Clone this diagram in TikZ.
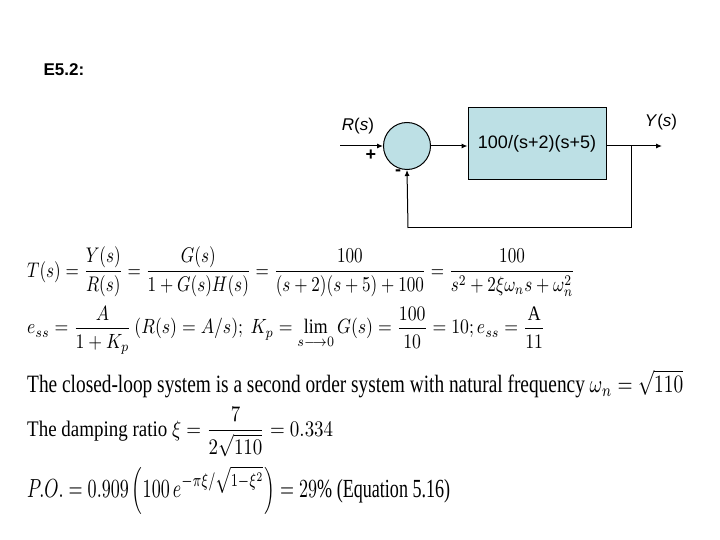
\documentclass[tikz,border=0pt]{standalone}
\usepackage{fontspec}
\usepackage{amsmath}
\usepackage{graphicx}
\setmainfont{Liberation Serif}
\newfontfamily\arial{Liberation Sans}
\usetikzlibrary{arrows.meta}
\begin{document}
\begin{tikzpicture}[x=1pt,y=-1pt,
  blk/.style={draw,line width=1pt,fill=blkfill},
  wire/.style={line width=1pt},
  arr/.style={wire,-{Latex[length=6pt,width=5pt]}},
  lbl/.style={font=\arial\fontsize{17}{19}\selectfont},
  eq/.style={anchor=west,inner sep=0pt}]
\definecolor{blkfill}{RGB}{189,224,229}
\useasboundingbox (0,0) rectangle (720,540);
\fill[white] (0,0) rectangle (720,540);
\node[anchor=west,font=\arial\bfseries\fontsize{17}{19}\selectfont] (title) at (40,70) {E5.2:};
\node[blk,circle,minimum size=47pt,inner sep=0pt] (sum) at (407,146) {};
\node[blk,minimum width=138pt,minimum height=72pt,inner sep=0pt,font=\arial\fontsize{18}{20}\selectfont] (G) at (537,144) {100/(s+2)(s+5)};
\coordinate (in) at (340,146);
\coordinate (out) at (662,146);
\coordinate (br) at (631,146);
\coordinate (fb1) at (631,228);
\coordinate (fb2) at (408,228);
\draw[arr] (in) -- (sum.west);
\draw[arr] (sum.east) -- (G.west |- sum.east);
\draw[arr] (G.east |- out) -- (out);
\draw[wire] (br) -- (fb1) -- (fb2);
\draw[arr] (fb2) -- (sum.south);
\node[lbl] (R) at (358,126) {\textit{R}(\textit{s})};
\node[lbl] (Y) at (661,122) {\textit{Y}(\textit{s})};
\node[font=\arial\bfseries\fontsize{18}{20}\selectfont] (plus) at (371,155) {+};
\node[font=\arial\bfseries\fontsize{18}{20}\selectfont] (minus) at (398,173) {-};
\node[eq] (e1) at (27,272) {\resizebox*{548pt}{50pt}{$\displaystyle T(s)=\frac{Y(s)}{R(s)}=\frac{G(s)}{1+G(s)H(s)}=\frac{100}{(s+2)(s+5)+100}=\frac{100}{s^2+2\xi\omega_n s+\omega_n^2}$}};
\node[eq] (e2) at (27,330) {\resizebox*{518pt}{48pt}{$\displaystyle e_{ss}=\frac{A}{1+K_p}\,(R(s)=A/s);\ K_p=\lim_{s\longrightarrow0}G(s)=\frac{100}{10}=10;e_{ss}=\frac{\mathrm{A}}{11}$}};
\node[eq] (e3) at (27,384) {\resizebox*{656pt}{28pt}{The closed-loop system is a second order system with natural frequency $\omega_n=\sqrt{110}$}};
\node[eq] (e4) at (27,432) {\resizebox*{306pt}{50pt}{The damping ratio $\displaystyle\xi=\frac{7}{2\sqrt{110}}=0.334$}};
\node[eq] (e5) at (27,490) {\resizebox*{423pt}{48pt}{$\displaystyle P.O.=0.909\left(100\,e^{-\pi\xi/\sqrt{1-\xi^2}}\right)=29\%$ (Equation 5.16)}};
\end{tikzpicture}
\end{document}
